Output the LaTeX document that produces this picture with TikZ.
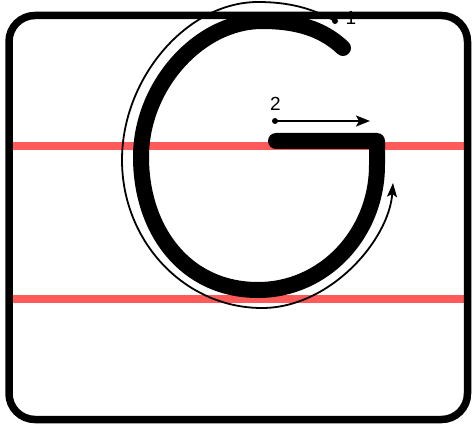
\documentclass[tikz,border=0pt]{standalone}
\usepackage{fontspec}
\setmainfont{Liberation Sans}
\usetikzlibrary{arrows.meta}
\definecolor{guidered}{RGB}{255,90,90}
\tikzset{
  guideline/.style={guidered,line width=8pt},
  dotmark/.style={circle,fill,inner sep=0pt,minimum size=6pt},
  numlabel/.style={font=\fontsize{19}{19}\selectfont,inner sep=0pt,anchor=south},
  hint/.style={line width=1.8pt},
}
\begin{document}
\begin{tikzpicture}[x=1pt,y=-1pt]
    \useasboundingbox (0,0) rectangle (472,433);
    % writing lines
    \draw[guideline] (9,146.5) -- (467,146.5);
    \draw[guideline] (9,299.5) -- (467,299.5);
    % letter
    \draw[line width=16pt,line cap=round,line join=round]
        (343,48) .. controls (322,28) and (295,21) .. (262,21)
        .. controls (199,21) and (141,86) .. (141,157)
        .. controls (141,230) and (185,290) .. (258,290)
        .. controls (324,290) and (377,234) .. (377,165)
        -- (377,141) -- (276,141);
    % stroke 1
    \node[dotmark] (s1) at (335,21) {};
    \node[numlabel] (n1) at (351,24.5) {1};
    \draw[hint,-{Stealth[length=14pt,width=10pt,inset=3pt]}]
        (s1.center) .. controls (312,8) and (288,2) .. (258,2)
        .. controls (187,2) and (122,78) .. (122,160)
        .. controls (122,242) and (185,308) .. (262,308)
        .. controls (330,308) and (389,240) .. (393,183);
    % stroke 2
    \node[dotmark] (s2) at (275,121) {};
    \node[numlabel] (n2) at (275.5,110.7) {2};
    \coordinate (e2) at (370,121);
    \draw[hint,-{Stealth[length=14pt,width=11pt,inset=3pt]}] (s2.center) -- (e2);
    % frame
    \draw[line width=7.5pt,rounded corners=26pt] (9,15.5) rectangle (467.5,419.5);
\end{tikzpicture}
\end{document}
